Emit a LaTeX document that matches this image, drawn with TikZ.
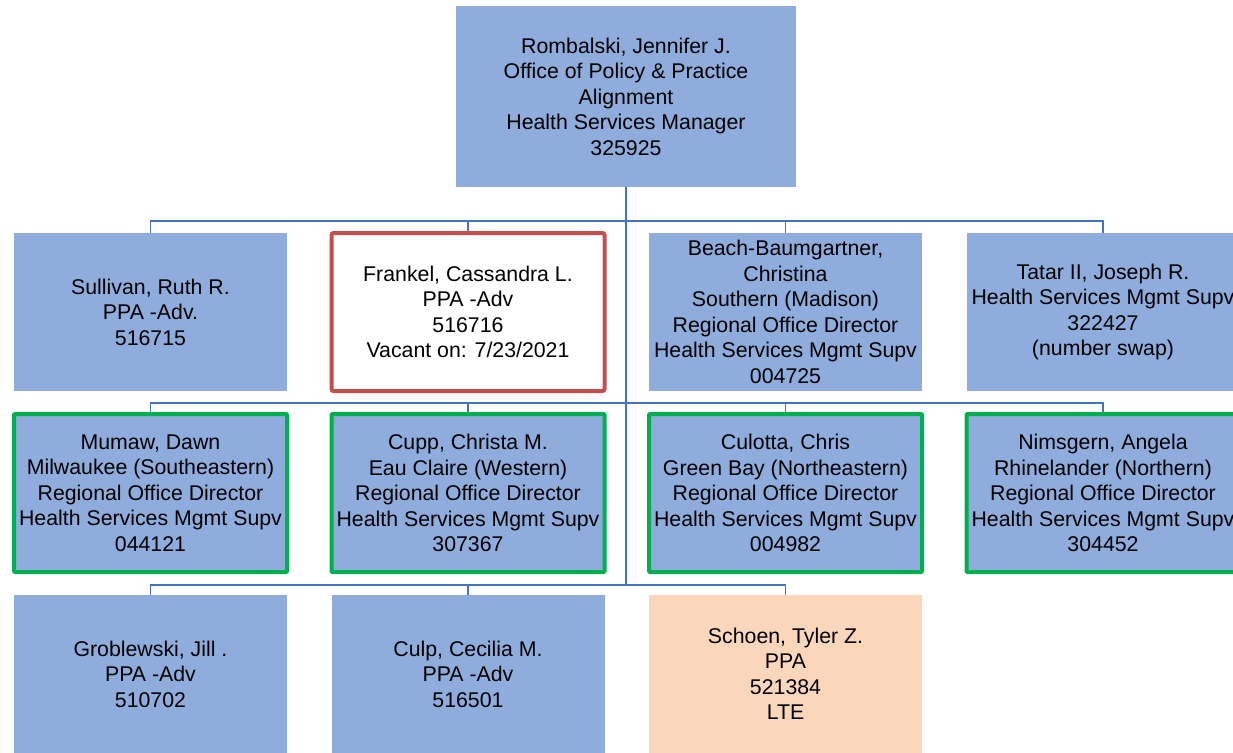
\documentclass[tikz,border=0pt]{standalone}
\usepackage{fontspec}
\setmainfont{Liberation Sans}
\usepackage{xcolor}
\usetikzlibrary{positioning, calc}

\definecolor{boxblue}{RGB}{142,172,220}
\definecolor{linkblue}{RGB}{68,114,196}
\definecolor{vacred}{RGB}{192,80,77}
\definecolor{rodgreen}{RGB}{0,176,80}
\definecolor{ltepeach}{RGB}{250,215,187}

\begin{document}
\begin{tikzpicture}[x=1pt, y=-1pt,
        person/.style={rectangle, fill=boxblue, minimum width=273pt, minimum height=158pt, align=center, inner sep=0pt, font=\fontsize{21.3}{25.5}\selectfont},
        vacant/.style={person, fill=white, draw=vacred, line width=4pt, rounded corners=2pt},
        director/.style={person, draw=rodgreen, line width=4pt, rounded corners=1pt},
        lte/.style={person, fill=ltepeach},
        link/.style={draw=linkblue, line width=1.5pt}]
        \useasboundingbox (0, 0) rectangle (1233, 752);

        % manager
        \node[person, minimum width=340pt, minimum height=181pt] (mgr) at (626, 96.5) {Rombalski, Jennifer J.\\Office of Policy \& Practice\\Alignment\\Health Services Manager\\325925};

        % first row
        \node[person] (sul) at (150.5, 312) {Sullivan, Ruth R.\\PPA -Adv.\\516715};
        \node[vacant] (fra) at (468, 312) {Frankel, Cassandra L.\\PPA -Adv\\516716\\Vacant on: 7/23/2021};
        \node[person] (bea) at (785.5, 312) {Beach-Baumgartner,\\Christina\\Southern (Madison)\\Regional Office Director\\Health Services Mgmt Supv\\004725};
        \node[person] (tat) at (1103, 312) {Tatar II, Joseph R.\\Health Services Mgmt Supv\\322427\\(number swap)};

        % regional directors
        \node[director] (mum) at (150.5, 493) {Mumaw, Dawn\\Milwaukee (Southeastern)\\Regional Office Director\\Health Services Mgmt Supv\\044121};
        \node[director] (cup) at (468, 493) {Cupp, Christa M.\\Eau Claire (Western)\\Regional Office Director\\Health Services Mgmt Supv\\307367};
        \node[director] (cul) at (785.5, 493) {Culotta, Chris\\Green Bay (Northeastern)\\Regional Office Director\\Health Services Mgmt Supv\\004982};
        \node[director] (nim) at (1103, 493) {Nimsgern, Angela\\Rhinelander (Northern)\\Regional Office Director\\Health Services Mgmt Supv\\304452};

        % last row
        \node[person] (gro) at (150.5, 674) {Groblewski, Jill .\\PPA -Adv\\510702};
        \node[person] (clp) at (468, 674) {Culp, Cecilia M.\\PPA -Adv\\516501};
        \node[lte] (sch) at (785.5, 674) {Schoen, Tyler Z.\\PPA\\521384\\LTE};

        % connectors
        \coordinate (busA) at (626, 221);
        \coordinate (busB) at (626, 403);
        \coordinate (busC) at (626, 585);
        \draw[link] (mgr.south) -- (busC);
        \foreach \n in {sul, fra, bea, tat} \draw[link] (busA) -| (\n.north);
        \foreach \n in {mum, cup, cul, nim} \draw[link] (busB) -| (\n.north);
        \foreach \n in {gro, clp, sch} \draw[link] (busC) -| (\n.north);
\end{tikzpicture}
\end{document}
